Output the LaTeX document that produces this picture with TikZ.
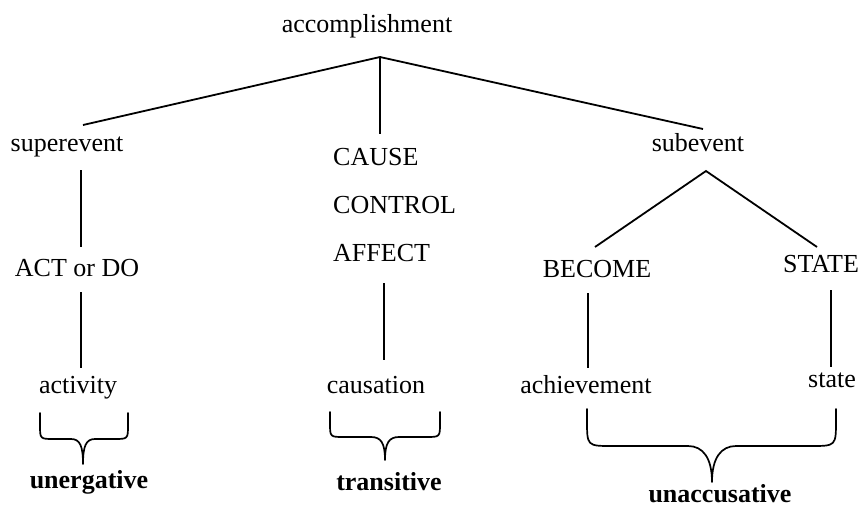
\documentclass[tikz,border=0pt]{standalone}
\usepackage{fontspec}
\setmainfont{Liberation Serif}
\begin{document}
\begin{tikzpicture}[x=1pt,y=-1pt,
  lbl/.style={inner sep=0pt,anchor=base,font=\fontsize{26}{31}\selectfont},
  lblw/.style={lbl,anchor=base west},
  result/.style={lbl,font=\fontsize{26}{31}\selectfont\bfseries},
  branch/.style={line width=1.8pt},
  stem/.style={line width=1.4pt},
  curly/.style={line width=1.7pt,line cap=round,line join=round}]
\useasboundingbox (0,0) rectangle (863,507);

% event structure labels
\node[lbl]  (acc)    at (367,32)  {accomplishment};
\node[lbl]  (sup)    at (67,151)  {superevent};
\node[lblw] (cause)  at (333,165) {CAUSE};
\node[lblw] (ctrl)   at (333,213) {CONTROL};
\node[lblw] (affect) at (333,261) {AFFECT};
\node[lbl]  (sub)    at (698,151) {subevent};
\node[lbl]  (actdo)  at (77,276)  {ACT or DO};
\node[lbl]  (become) at (597,277) {BECOME};
\node[lbl]  (stateU) at (821,272) {STATE};
\node[lbl]  (activ)  at (78,393)  {activity};
\node[lbl]  (causn)  at (376,393) {causation};
\node[lbl]  (achiev) at (586,393) {achievement};
\node[lbl]  (statel) at (832,387) {state};
\node[result] (unerg)  at (89,488)  {unergative};
\node[result] (trans)  at (389,490) {transitive};
\node[result] (unacc)  at (720,502) {unaccusative};

% branch points and line ends
\coordinate (accJ)  at (380,57);
\coordinate (supT)  at (83,125);
\coordinate (cauT)  at (380,134);
\coordinate (subT)  at (703,129);
\coordinate (subJ)  at (706,171);
\coordinate (becT)  at (595,247);
\coordinate (staT)  at (817,247);
\coordinate (supB)  at (81,170);
\coordinate (actT)  at (81,247);
\coordinate (actB)  at (81,292);
\coordinate (actvT) at (81,368);
\coordinate (affB)  at (384,283);
\coordinate (cauN)  at (384,360);
\coordinate (becB)  at (588,293);
\coordinate (achT)  at (588,368);
\coordinate (staB)  at (831,290);
\coordinate (stlT)  at (831,367);

% tree
\draw[branch] (supT) -- (accJ) -- (subT);
\draw[branch] (accJ) -- (cauT);
\draw[branch] (becT) -- (subJ) -- (staT);
\draw[stem] (supB) -- (actT);
\draw[stem] (actB) -- (actvT);
\draw[stem] (affB) -- (cauN);
\draw[stem] (becB) -- (achT);
\draw[stem] (staB) -- (stlT);

% braces
\draw[curly] (40,413) -- (40,425) .. controls (40,439) .. (54,439)
  -- (71,439) .. controls (80,439) and (83,446) .. (83,464)
  .. controls (83,446) and (86,439) .. (95,439)
  -- (114,439) .. controls (128,439) .. (128,425) -- (128,413);
\draw[curly] (330,412) -- (330,423) .. controls (330,437) .. (344,437)
  -- (371,437) .. controls (381,437) and (385,443) .. (385,460)
  .. controls (385,443) and (389,437) .. (399,437)
  -- (426,437) .. controls (440,437) .. (440,423) -- (440,412);
\draw[curly] (587,409) -- (587,420) .. controls (587,446) .. (612,446)
  -- (688,446) .. controls (703,446) and (712,458) .. (712,482)
  .. controls (712,458) and (721,446) .. (736,446)
  -- (811,446) .. controls (836,446) .. (836,420) -- (836,409);
\end{tikzpicture}
\end{document}
